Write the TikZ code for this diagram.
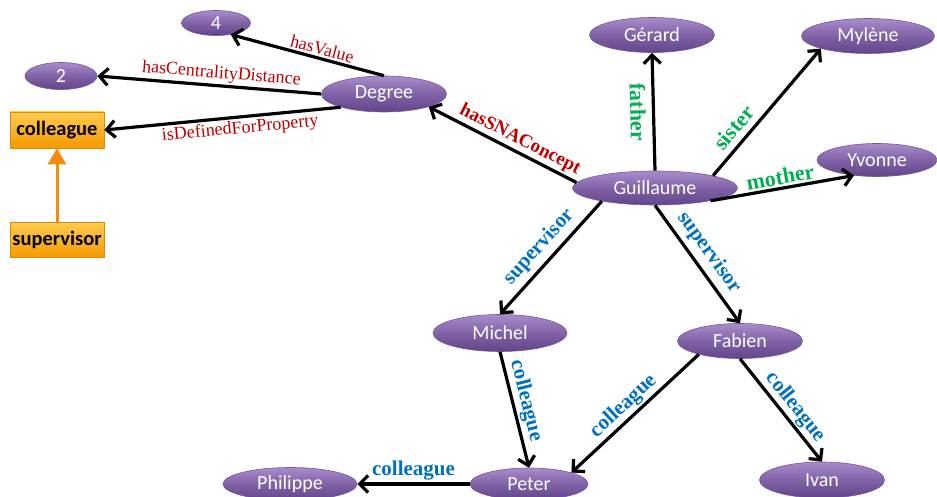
\documentclass[tikz,border=0pt]{standalone}
\usepackage{fontspec}
\setmainfont{Liberation Serif}
\newfontfamily\calfont{Carlito}
\usetikzlibrary{shapes.geometric,arrows.meta}
\definecolor{ptop}{HTML}{A88CCB}
\definecolor{pmid}{HTML}{8062A6}
\definecolor{pbot}{HTML}{62448A}
\definecolor{pborder}{HTML}{7457A0}
\definecolor{otop}{HTML}{FFCB4F}
\definecolor{obot}{HTML}{F59A00}
\definecolor{oborder}{HTML}{E48A00}
\definecolor{oarrow}{HTML}{F28C0F}
\definecolor{lred}{HTML}{C00000}
\definecolor{lgreen}{HTML}{00B050}
\definecolor{lblue}{HTML}{0070C0}
\tikzset{
  person/.style={ellipse, draw=pborder, line width=0.6pt, top color=ptop, bottom color=pbot, middle color=pmid,
    text=white, font=\calfont\fontsize{20}{22}\selectfont, inner sep=0pt, minimum height=34pt},
  prop/.style={rectangle, draw=oborder, line width=0.6pt, top color=otop, bottom color=obot,
    font=\calfont\bfseries\fontsize{20.5}{22}\selectfont, minimum width=94pt, minimum height=36pt, inner sep=0pt},
  rel/.style={draw=black, line width=3.2pt, -{Straight Barb[length=8.5pt,width=17pt]}},
  sub/.style={draw=oarrow, line width=3pt, -{Triangle[length=16pt,width=18pt]}},
  snalab/.style={sloped, text=lred, font=\fontsize{18}{20}\selectfont, inner sep=2pt},
  snabold/.style={sloped, text=lred, font=\bfseries\fontsize{19}{21}\selectfont, inner sep=2pt},
  famlab/.style={sloped, text=lgreen, font=\bfseries\fontsize{22}{24}\selectfont, inner sep=2pt},
  worklab/.style={sloped, text=lblue, font=\bfseries\fontsize{21}{23}\selectfont, inner sep=2pt},
}
\begin{document}
\begin{tikzpicture}[x=1pt,y=-1pt]
\useasboundingbox (0,0) rectangle (937,497);
% nodes
\node[person, minimum width=69pt, minimum height=25pt] (four) at (216,23) {4};
\node[person, minimum width=72pt, minimum height=27pt] (two) at (61,76) {2};
\node[person, minimum width=125pt, minimum height=36pt] (deg) at (384,94) {Degree};
\node[prop] (coll) at (57,130) {colleague};
\node[prop, minimum height=35pt] (sup) at (57,240) {supervisor};
\node[person, minimum width=125pt, minimum height=35pt] (ger) at (652,35) {Gérard};
\node[person, minimum width=133pt, minimum height=35pt] (myl) at (868,36) {Mylène};
\node[person, minimum width=120pt, minimum height=33pt] (yvo) at (877,160) {Yvonne};
\node[person, minimum width=165pt, minimum height=34pt] (guil) at (655,188) {Guillaume};
\node[person, minimum width=134pt, minimum height=37pt] (mic) at (500,333) {Michel};
\node[person, minimum width=125pt, minimum height=35pt] (fab) at (740,341) {Fabien};
\node[person, minimum width=134pt, minimum height=33pt] (phil) at (290,484) {Philippe};
\node[person, minimum width=118pt, minimum height=32pt] (pet) at (529,484) {Peter};
\node[person, minimum width=125pt, minimum height=36pt] (ivan) at (822,480) {Ivan};
% connectors
\draw[rel] (deg.north) -- node[snalab, above, pos=0.42] {hasValue} (four.-38);
\draw[rel] (deg.west) -- node[snalab, above, pos=0.45] {hasCentralityDistance} (two.east);
\draw[rel] (deg.197) -- node[snalab, below, pos=0.43] {isDefinedForProperty} (coll.east);
\draw[sub] (sup.north) -- (coll.south);
\draw[rel] (guil.176) -- node[snabold, above, pos=0.42] {hasSNAConcept} (deg.-16);
\draw[rel] (guil.north) -- node[famlab, below=4pt] {father} (ger.south);
\draw[rel] (guil.12) -- node[famlab, above=4pt, pos=0.3] {sister} (myl.195);
\draw[rel] (guil.-13) -- node[famlab, above] {mother} (yvo.214);
\draw[rel] (guil.194) -- node[worklab, above=3pt, pos=0.5] {supervisor} (mic.north);
\draw[rel] (guil.south) -- node[worklab, above=3pt, pos=0.48] {supervisor} (fab.north);
\draw[rel] (mic.south) -- node[worklab, above, pos=0.45] {colleague} (pet.north);
\draw[rel] (fab.198) -- node[worklab, above, pos=0.52] {colleague} (pet.15);
\draw[rel] (fab.south) -- node[worklab, above, pos=0.55] {colleague} (ivan.north);
\draw[rel] (pet.west) -- node[worklab, above] {colleague} (phil.east);
\end{tikzpicture}
\end{document}
